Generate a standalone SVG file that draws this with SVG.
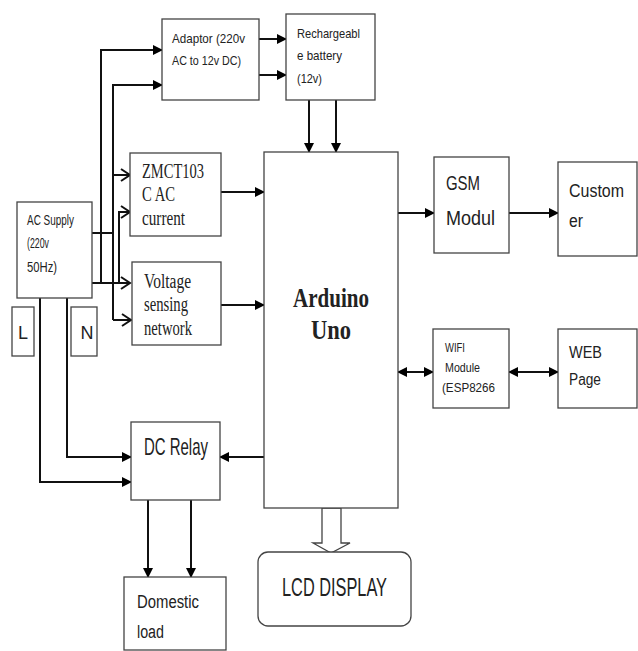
<svg xmlns="http://www.w3.org/2000/svg" width="638" height="651" viewBox="0 0 638 651">
<style>
.box{fill:#fff;stroke:#444;stroke-width:1.3}
.ln{fill:none;stroke:#111;stroke-width:2}
.s{font-family:"Liberation Sans Narrow","Liberation Sans",sans-serif;fill:#222}
.r{font-family:"Liberation Serif",serif;fill:#222}
</style>
<defs>
<marker id="ah" markerUnits="userSpaceOnUse" markerWidth="10" markerHeight="10" refX="9" refY="5" orient="auto-start-reverse" viewBox="0 0 10 10">
<path d="M0,0 L10,5 L0,10 z" fill="#000"/>
</marker>
<marker id="ch" markerUnits="userSpaceOnUse" markerWidth="12" markerHeight="14" refX="10" refY="7" orient="auto" viewBox="0 0 12 14">
<path d="M1,1 L10,7 L1,13" fill="none" stroke="#111" stroke-width="2"/>
</marker>
</defs>
<rect width="638" height="651" fill="#fff"/>

<g id="connectors">
<path class="ln" d="M259,39 H286" marker-end="url(#ah)"/>
<path class="ln" d="M259,75 H286" marker-end="url(#ah)"/>
<path class="ln" d="M309,100 V152" marker-end="url(#ah)"/>
<path class="ln" d="M336,100 V152" marker-end="url(#ah)"/>
<path class="ln" d="M101,283 V50 H162" marker-end="url(#ah)"/>
<path class="ln" d="M113,320 V85 H162" marker-end="url(#ah)"/>
<path class="ln" d="M92,233 H113"/>
<path class="ln" d="M92,283 H130" marker-end="url(#ch)"/>
<path class="ln" d="M113,175 H130" marker-end="url(#ch)"/>
<path class="ln" d="M119,282 V212 H130" marker-end="url(#ch)"/>
<path class="ln" d="M113,320 H131" marker-end="url(#ch)"/>
<path class="ln" d="M221,192 H264" marker-end="url(#ah)"/>
<path class="ln" d="M221,305 H264" marker-end="url(#ah)"/>
<path class="ln" d="M398,213 H434" marker-end="url(#ah)"/>
<path class="ln" d="M509,213 H558" marker-end="url(#ah)"/>
<path class="ln" d="M398,372 H433" marker-start="url(#ah)" marker-end="url(#ah)"/>
<path class="ln" d="M509,372 H558" marker-start="url(#ah)" marker-end="url(#ah)"/>
<path class="ln" d="M264,457 H220" marker-end="url(#ah)"/>
<path class="ln" d="M40,298 V482 H131" marker-end="url(#ah)"/>
<path class="ln" d="M67,298 V457 H131" marker-end="url(#ah)"/>
<path class="ln" d="M148,500 V577" marker-end="url(#ah)"/>
<path class="ln" d="M191,500 V577" marker-end="url(#ah)"/>
<polygon points="322,508 341,508 341,543 350,543 331,553 313,543 322,543" fill="#fff" stroke="#444" stroke-width="1.3"/>
</g>

<g id="adaptor">
<rect class="box" x="162" y="19" width="97" height="81"/>
<text class="s" x="172" y="43" font-size="13" textLength="73" lengthAdjust="spacingAndGlyphs">Adaptor (220v</text>
<text class="s" x="172" y="65" font-size="13" textLength="69" lengthAdjust="spacingAndGlyphs">AC to 12v DC)</text>
</g>
<g id="battery">
<rect class="box" x="286" y="14" width="89" height="86"/>
<text class="s" x="297" y="38" font-size="13" textLength="63" lengthAdjust="spacingAndGlyphs">Rechargeabl</text>
<text class="s" x="297" y="60" font-size="13" textLength="45" lengthAdjust="spacingAndGlyphs">e battery</text>
<text class="s" x="297" y="83" font-size="13" textLength="25" lengthAdjust="spacingAndGlyphs">(12v)</text>
</g>
<g id="zmct">
<rect class="box" x="130" y="153" width="91" height="83"/>
<text class="r" x="142" y="178" font-size="21" textLength="62" lengthAdjust="spacingAndGlyphs">ZMCT103</text>
<text class="r" x="142" y="201" font-size="21" textLength="33" lengthAdjust="spacingAndGlyphs">C AC</text>
<text class="r" x="142" y="225" font-size="21" textLength="43" lengthAdjust="spacingAndGlyphs">current</text>
</g>
<g id="voltage">
<rect class="box" x="132" y="262" width="89" height="83"/>
<text class="r" x="144" y="288" font-size="20" textLength="47" lengthAdjust="spacingAndGlyphs">Voltage</text>
<text class="r" x="144" y="311" font-size="20" textLength="44" lengthAdjust="spacingAndGlyphs">sensing</text>
<text class="r" x="144" y="335" font-size="20" textLength="48" lengthAdjust="spacingAndGlyphs">network</text>
</g>
<g id="acsupply">
<rect class="box" x="17" y="202" width="75" height="96"/>
<text class="s" x="27" y="225" font-size="15" textLength="47" lengthAdjust="spacingAndGlyphs">AC Supply</text>
<text class="s" x="27" y="248" font-size="15" textLength="22" lengthAdjust="spacingAndGlyphs">(220v</text>
<text class="s" x="27" y="272" font-size="15" textLength="30" lengthAdjust="spacingAndGlyphs">50Hz)</text>
</g>
<g id="L">
<rect class="box" x="12" y="307" width="22" height="49"/>
<text class="s" x="23" y="339" font-size="18" text-anchor="middle">L</text>
</g>
<g id="N">
<rect class="box" x="71" y="307" width="26" height="49"/>
<text class="s" x="87" y="339" font-size="18" text-anchor="middle">N</text>
</g>
<g id="arduino">
<rect class="box" x="264" y="152" width="134" height="356"/>
<text class="r" x="331" y="307" font-size="28" font-weight="bold" text-anchor="middle" textLength="76" lengthAdjust="spacingAndGlyphs">Arduino</text>
<text class="r" x="331" y="339" font-size="28" font-weight="bold" text-anchor="middle" textLength="40" lengthAdjust="spacingAndGlyphs">Uno</text>
</g>
<g id="gsm">
<rect class="box" x="434" y="157" width="75" height="96"/>
<text class="s" x="446" y="190" font-size="21" textLength="34" lengthAdjust="spacingAndGlyphs">GSM</text>
<text class="s" x="446" y="225" font-size="21" textLength="49" lengthAdjust="spacingAndGlyphs">Modul</text>
</g>
<g id="customer">
<rect class="box" x="558" y="162" width="79" height="94"/>
<text class="s" x="569" y="197" font-size="18" textLength="55" lengthAdjust="spacingAndGlyphs">Custom</text>
<text class="s" x="569" y="227" font-size="18" textLength="14" lengthAdjust="spacingAndGlyphs">er</text>
</g>
<g id="wifi">
<rect class="box" x="433" y="329" width="76" height="79"/>
<text class="s" x="445" y="352" font-size="12" textLength="20" lengthAdjust="spacingAndGlyphs">WIFI</text>
<text class="s" x="445" y="372" font-size="12" textLength="35" lengthAdjust="spacingAndGlyphs">Module</text>
<text class="s" x="442" y="392" font-size="12" textLength="53" lengthAdjust="spacingAndGlyphs">(ESP8266</text>
</g>
<g id="webpage">
<rect class="box" x="558" y="329" width="79" height="79"/>
<text class="s" x="569" y="358" font-size="16" textLength="33" lengthAdjust="spacingAndGlyphs">WEB</text>
<text class="s" x="569" y="385" font-size="16" textLength="32" lengthAdjust="spacingAndGlyphs">Page</text>
</g>
<g id="relay">
<rect class="box" x="131" y="422" width="89" height="78"/>
<text class="s" x="144" y="455" font-size="24" textLength="64" lengthAdjust="spacingAndGlyphs">DC Relay</text>
</g>
<g id="domestic">
<rect class="box" x="124" y="577" width="102" height="73"/>
<text class="s" x="137" y="608" font-size="18" textLength="62" lengthAdjust="spacingAndGlyphs">Domestic</text>
<text class="s" x="137" y="638" font-size="18" textLength="27" lengthAdjust="spacingAndGlyphs">load</text>
</g>
<g id="lcd">
<rect class="box" x="258" y="552" width="153" height="74" rx="10"/>
<text class="s" x="282" y="596" font-size="26" textLength="105" lengthAdjust="spacingAndGlyphs">LCD DISPLAY</text>
</g>
</svg>
